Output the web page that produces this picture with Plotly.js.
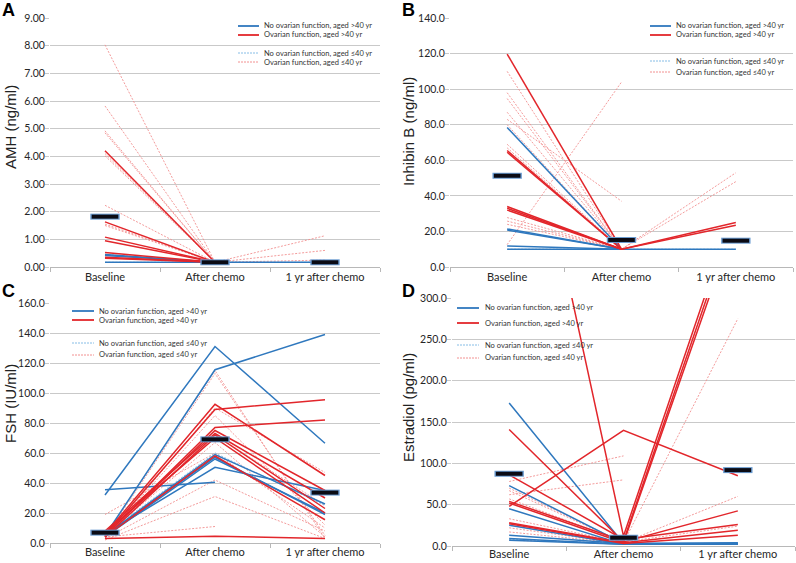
<!DOCTYPE html>
<html>
<head>
<meta charset="utf-8">
<script src="https://cdn.plot.ly/plotly-3.0.1.min.js"></script>
<style>html,body{margin:0;padding:0;background:#fff;}#chart{width:796px;height:563px;}</style>
</head>
<body>
<div id="chart"></div>
<script>
// ---------- DATA ----------
const categories = ["Baseline", "After chemo", "1 yr after chemo"];
const legendLabels = [
  "No ovarian function, aged >40 yr",
  "Ovarian function, aged >40 yr",
  "No ovarian function, aged \u226440 yr",
  "Ovarian function, aged \u226440 yr"
];

// Panel A: AMH (ng/ml) — each row = one patient [Baseline, After chemo, 1 yr]
const amhNoOvGt40 = [[0.45, 0.17, null], [0.42, 0.17, null], [0.17, 0.17, 0.17]];
const amhOvGt40 = [[4.2, 0.17, null], [1.63, 0.17, null], [1.08, 0.17, null], [0.95, 0.17, null],
                   [0.52, 0.17, null], [0.35, 0.17, null], [0.32, 0.17, null]];
const amhNoOvLe40 = [[0.17, 0.17, 0.17]];
const amhOvLe40 = [[8.03, 0.17, null], [5.82, 0.17, 1.13], [4.92, 0.17, 0.6], [4.85, 0.17, null],
                   [4.1, 0.17, 0.25], [4.02, 0.17, null], [2.23, 0.17, null], [1.55, 0.17, null],
                   [1.5, 0.17, null], [0.45, 0.17, null]];
const amhMean = [1.82, 0.17, 0.17];

// Panel B: Inhibin B (ng/ml)
const inhNoOvGt40 = [[78.4, 10, null], [21.4, 10, null], [20.8, 10, null], [11.8, 10, null], [10, 10, 10]];
const inhOvGt40 = [[119.7, 10, null], [65.5, 10, null], [64.5, 10, null], [34, 10, 25], [33, 10, 23.5], [32, 10, null]];
const inhNoOvLe40 = [[10, 10, 10]];
const inhOvLe40 = [[110, 10, null], [98, 10, null], [94.7, 10, null], [87, 10, null], [83, 37, null],
                   [80, 10, null], [69, 10, null], [67, 10, null], [27.8, 10, 53], [25.8, 10, 48],
                   [24, 10, null], [12.6, 104, null]];
const inhMean = [51.3, 15.2, 14.8];

// Panel C: FSH (IU/ml)
const fshNoOvGt40 = [[32, 131, 66.5], [5, 115.5, 139], [35.5, 40.5, null], [5, 59, 26],
                     [4, 56, 20], [6, 50.5, 35], [5, 57, 19]];
const fshOvGt40 = [[5, 89, 95.5], [5, 77, 82], [6, 92.5, 45], [5, 75, 35], [4, 72, 23],
                   [7, 70, 20], [8, 73, 30], [4, 58, 15.5], [3, 4.5, 3]];
const fshNoOvLe40 = [[6, 60, 25]];
const fshOvLe40 = [[19, 60, 10], [5, 115, 3], [4, 113, 5], [3, 90, 47], [4, 85, 12], [5, 67, 4],
                   [3, 42, 8], [2, 31, 3], [4, 11, null], [5, 72, 25]];
const fshMean = [6.9, 69.1, 33.6];

// Panel D: Estradiol (pg/ml)
const e2NoOvGt40 = [[173, 3, 3], [73, 3, 3], [45, 2, 2], [25, 2, 4], [13, 3, 3], [9, 2, 2], [7, 2, 3]];
const e2OvGt40 = [[650, 12, 420], [54, 6, 410], [52, 4, 400], [48, 140, 85], [141, 5, 42.5],
                  [86, 8, 26], [28, 4, 19], [27, 3, 13]];
const e2NoOvLe40 = [[8, 3, 3]];
const e2OvLe40 = [[78, 109, null], [62, 80, null], [70, 4, 275], [67, 4, 60], [57, 5, 24],
                  [33, 4, null], [22, 3, null], [17, 3, null], [7, 3, null]];
const e2Mean = [87.4, 10, 91.8];

// ---------- STYLES / LAYOUT ----------
const W = 796, H = 563;
const fx = v => v / W, fy = v => 1 - v / H;
const styles = [
  {color: "#2f78be", width: 1.5, dash: "solid"},
  {color: "#e2262b", width: 1.5, dash: "solid"},
  {color: "#86bde6", width: 0.9, dash: "2px,1.5px"},
  {color: "#f29090", width: 0.9, dash: "2px,1.5px"}
];
const tickFont = {size: 10.5, color: "#262626", family: "Lato, Liberation Sans, sans-serif"};

const panels = [
  {key: "", letter: "A", title: "AMH (ng/ml)", groups: [amhNoOvGt40, amhOvGt40, amhNoOvLe40, amhOvLe40], mean: amhMean,
   xd: [50, 380], yd: [18, 267], range: [0, 9], dtick: 1, fmt: ".2f", xlabShift: 0,
   titlePos: [11, 127], letterPos: [8, 10],
   legend: {x1: 238, x2: 259, tx: 262, ys: [26, 35, 53, 62]}},
  {key: "2", letter: "B", title: "Inhibin B (ng/ml)", groups: [inhNoOvGt40, inhOvGt40, inhNoOvLe40, inhOvLe40], mean: inhMean,
   xd: [450, 793], yd: [18, 267], range: [0, 140], dtick: 20, fmt: ".1f", xlabShift: 0,
   titlePos: [408, 132], letterPos: [408, 10],
   legend: {x1: 650, x2: 671, tx: 674, ys: [26, 35, 61, 72]}},
  {key: "3", letter: "C", title: "FSH (IU/ml)", groups: [fshNoOvGt40, fshOvGt40, fshNoOvLe40, fshOvLe40], mean: fshMean,
   xd: [50, 380], yd: [303, 543], range: [0, 160], dtick: 20, fmt: ".1f", xlabShift: -1,
   titlePos: [10, 404], letterPos: [8, 291],
   legend: {x1: 72, x2: 94, tx: 97, ys: [311, 320, 343, 355]}},
  {key: "4", letter: "D", title: "Estradiol (pg/ml)", groups: [e2NoOvGt40, e2OvGt40, e2NoOvLe40, e2OvLe40], mean: e2Mean,
   xd: [452, 795], yd: [298, 546], range: [0, 300], dtick: 50, fmt: ".1f", xlabShift: -2,
   titlePos: [408, 408], letterPos: [408, 291],
   legend: {x1: 457, x2: 479, tx: 483, ys: [308, 323, 345, 358]}}
];

const traces = [];
const layout = {
  width: W, height: H,
  margin: {l: 0, r: 0, t: 0, b: 0},
  paper_bgcolor: "#ffffff", plot_bgcolor: "#ffffff",
  showlegend: false,
  font: {family: "Liberation Sans, Arial, sans-serif", size: 12, color: "#222"},
  shapes: [], annotations: []
};

panels.forEach(p => {
  const xa = "x" + p.key, ya = "y" + p.key;
  // draw dashed groups first, then solid
  [3, 2, 0, 1].forEach(gi => {
    p.groups[gi].forEach(row => {
      traces.push({
        type: "scatter", mode: "lines", x: categories, y: row,
        xaxis: xa, yaxis: ya, connectgaps: false, hoverinfo: "skip",
        line: {color: styles[gi].color, width: styles[gi].width, dash: styles[gi].dash}
      });
    });
  });
  // group means: outlined black bars
  traces.push({type: "scatter", mode: "markers", x: categories, y: p.mean, xaxis: xa, yaxis: ya,
    marker: {symbol: "line-ew", size: 21, line: {width: 6, color: "#6a9bd0"}}, hoverinfo: "skip", cliponaxis: false});
  traces.push({type: "scatter", mode: "markers", x: categories, y: p.mean, xaxis: xa, yaxis: ya,
    marker: {symbol: "line-ew", size: 19, line: {width: 4, color: "#0b0b14"}}, hoverinfo: "skip", cliponaxis: false});

  layout["xaxis" + p.key] = {
    domain: [fx(p.xd[0]), fx(p.xd[1])], anchor: ya, type: "category",
    range: [-0.5, 2.5], showgrid: false, zeroline: false,
    showline: true, linecolor: "#b8b8b8", linewidth: 1,
    ticks: "outside", tickson: "boundaries", ticklen: 4, tickcolor: "#b8b8b8",
    ticklabelstandoff: p.xlabShift,
    tickfont: {size: 11, color: "#262626", family: tickFont.family}, fixedrange: true
  };
  layout["yaxis" + p.key] = {
    domain: [fy(p.yd[1]), fy(p.yd[0])], anchor: xa,
    range: p.range, dtick: p.dtick, tick0: 0, tickformat: p.fmt,
    showgrid: true, gridcolor: "#c9c9c9", gridwidth: 1, zeroline: false,
    showline: false, ticks: "outside", ticklen: 4, tickcolor: "#c9c9c9", ticklabelstandoff: -2,
    tickfont: tickFont, fixedrange: true
  };
  // axis title
  layout.annotations.push({text: p.title, xref: "paper", yref: "paper",
    x: fx(p.titlePos[0]), y: fy(p.titlePos[1]), textangle: -90, showarrow: false,
    xanchor: "center", yanchor: "middle", font: {size: 15, color: "#222"}});
  // panel letter
  layout.annotations.push({text: "<b>" + p.letter + "</b>", xref: "paper", yref: "paper",
    x: fx(p.letterPos[0]), y: fy(p.letterPos[1]), showarrow: false,
    xanchor: "center", yanchor: "middle", font: {size: 18, color: "#000", family: "Liberation Sans, Arial, sans-serif"}});
  // legend
  legendLabels.forEach((lab, i) => {
    const yy = p.legend.ys[i];
    layout.shapes.push({type: "line", xref: "paper", yref: "paper",
      x0: fx(p.legend.x1), x1: fx(p.legend.x2), y0: fy(yy), y1: fy(yy),
      line: {color: styles[i].color, width: i < 2 ? 1.8 : 1, dash: i < 2 ? "solid" : "2px,1px"}});
    layout.annotations.push({text: lab, xref: "paper", yref: "paper",
      x: fx(p.legend.tx), y: fy(yy), xanchor: "left", yanchor: "middle", showarrow: false,
      font: {size: 7.5, color: "#333", family: "Lato, Open Sans, sans-serif"}});
  });
});

Plotly.newPlot("chart", traces, layout, {displayModeBar: false, staticPlot: true});
</script>
</body>
</html>
